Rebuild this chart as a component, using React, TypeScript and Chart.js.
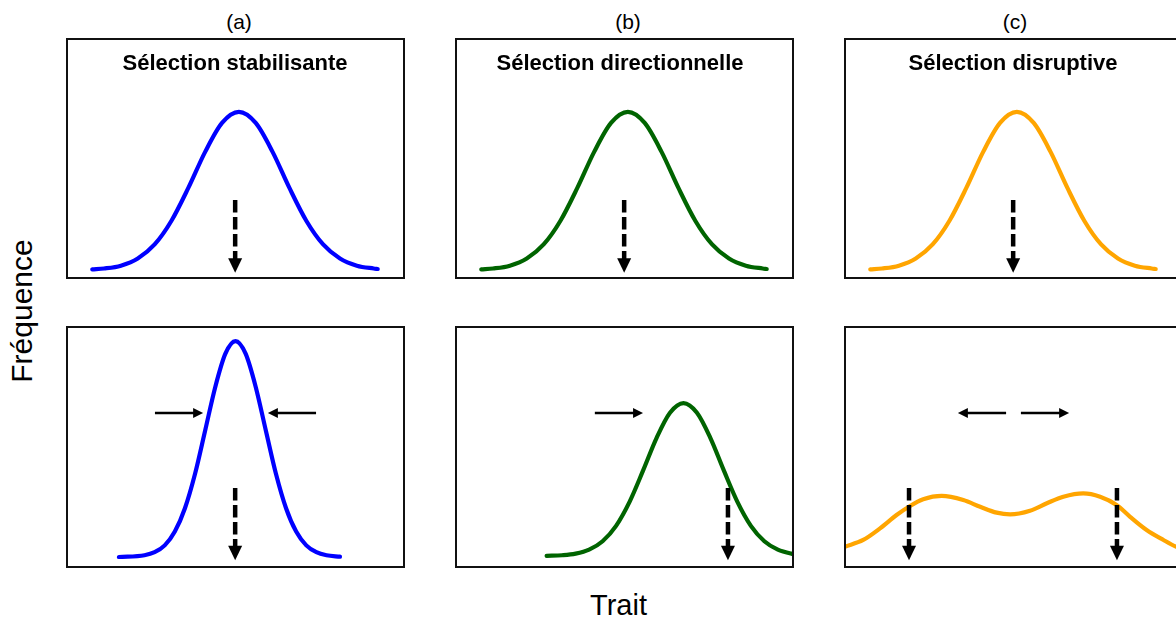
import React, { useEffect, useRef } from "react";
import { Chart, registerables } from "chart.js";

Chart.register(...registerables);

// ---------- data ----------
const panelLabels = ["(a)", "(b)", "(c)"];
const panelTitles = ["Sélection stabilisante", "Sélection directionnelle", "Sélection disruptive"];
const curveColors = ["#0000ff", "#006400", "#ffa500"];
const xAxisTitle = "Trait";
const yAxisTitle = "Fréquence";

// top row: initial distribution (same in the three panels)
const initialTrait = [0.75, 1.1, 1.6, 2.1, 2.6, 3.1, 3.6, 4.1, 4.6, 5.1, 5.6, 6.1, 6.6, 7.1, 7.6, 8.1, 8.6, 9.1, 9.22];
const initialFreq = [0.004, 0.01, 0.028, 0.073, 0.162, 0.312, 0.519, 0.747, 0.93, 1.0, 0.93, 0.747, 0.519, 0.312, 0.162, 0.073, 0.028, 0.01, 0.007];

// bottom row (a): stabilising selection
const stabTrait = [1.54, 2.3, 2.6, 2.9, 3.2, 3.5, 3.8, 4.1, 4.4, 4.7, 5.0, 5.3, 5.6, 5.9, 6.2, 6.5, 6.8, 7.1, 7.4, 7.7, 8.1];
const stabFreq = [0.013, 0.024, 0.043, 0.086, 0.173, 0.32, 0.537, 0.809, 1.083, 1.292, 1.371, 1.292, 1.083, 0.809, 0.537, 0.32, 0.173, 0.086, 0.043, 0.024, 0.015];

// bottom row (b): directional selection
const dirTrait = [2.69, 3.15, 3.55, 3.95, 4.35, 4.75, 5.15, 5.55, 5.95, 6.35, 6.75, 7.15, 7.55, 7.95, 8.35, 8.75, 9.15, 9.55, 9.95, 10.05, 10.4];
const dirFreq = [0.02, 0.024, 0.034, 0.059, 0.112, 0.209, 0.36, 0.556, 0.761, 0.92, 0.981, 0.92, 0.761, 0.556, 0.36, 0.209, 0.112, 0.059, 0.034, 0.031, 0.023];

// bottom row (c): disruptive selection
const disTrait = [-0.3, 0.0, 0.54, 1.04, 1.53, 1.93, 2.32, 2.87, 3.51, 4.01, 4.5, 4.9, 5.49, 5.99, 6.48, 7.07, 7.57, 8.06, 8.46, 8.95, 9.45, 9.82, 10.3];
const disFreq = [0.055, 0.078, 0.12, 0.193, 0.277, 0.334, 0.376, 0.397, 0.371, 0.329, 0.292, 0.281, 0.304, 0.351, 0.392, 0.413, 0.392, 0.34, 0.266, 0.183, 0.12, 0.078, 0.04];

// arrows [xFrom, yFrom, xTo, yTo] in data units
const topSelectionArrows = [[4.99, 0.443, 4.99, -0.0165]];
const stabSelectionArrows = [[4.99, 0.447, 4.99, -0.008]];
const stabShiftArrows = [[2.61, 0.919, 4.04, 0.919], [7.39, 0.919, 5.96, 0.919]];
const dirSelectionArrows = [[8.07, 0.447, 8.07, -0.008]];
const dirShiftArrows = [[4.12, 0.919, 5.55, 0.919]];
const disSelectionArrows = [[1.9, 0.447, 1.9, -0.008], [8.07, 0.447, 8.07, -0.008]];
const disShiftArrows = [[4.78, 0.919, 3.35, 0.919], [5.22, 0.919, 6.65, 0.919]];

const traitMin = 0;
const traitMax = 10;
const freqMin = -0.05;
const freqMax = 1.46;

// ---------- layout ----------
const FONT = "'Liberation Sans', Arial, Helvetica, sans-serif";
const COL_LEFTS = [67, 456, 845];
const ROW_TOPS = [39, 327];
const ROW_HEIGHTS = [239, 240];
const PANEL_W = 337;
const PAD = 3;
const LABEL_CX = [239, 628, 1015];
const TITLE_CX = [235, 620, 1013];

type ArrowSpec = { pts: number[][]; dashed: boolean };

function PanelChart(props: {
  left: number;
  top: number;
  width: number;
  height: number;
  trait: number[];
  freq: number[];
  color: string;
  arrows: ArrowSpec[];
}) {
  const ref = useRef<HTMLCanvasElement>(null);
  const { left, top, width, height, trait, freq, color, arrows } = props;

  useEffect(() => {
    if (!ref.current) return;
    const overlay = {
      id: "arrowsFrame",
      afterDatasetsDraw(chart: any) {
        const { ctx, chartArea, scales } = chart;
        const sx = scales.x;
        const sy = scales.y;
        ctx.save();
        for (const group of arrows) {
          for (const a of group.pts) {
            const x0 = sx.getPixelForValue(a[0]);
            const y0 = sy.getPixelForValue(a[1]);
            const x1 = sx.getPixelForValue(a[2]);
            const y1 = sy.getPixelForValue(a[3]);
            const ang = Math.atan2(y1 - y0, x1 - x0);
            const headLen = group.dashed ? 14.5 : 10;
            const headW = group.dashed ? 14 : 10;
            const c = Math.cos(ang);
            const s = Math.sin(ang);
            const bx = x1 - c * headLen;
            const by = y1 - s * headLen;
            ctx.strokeStyle = "#000";
            ctx.fillStyle = "#000";
            ctx.lineWidth = group.dashed ? 4.5 : 2.6;
            ctx.lineCap = "butt";
            ctx.setLineDash(group.dashed ? [12.5, 4.5] : []);
            ctx.beginPath();
            ctx.moveTo(x0, y0);
            ctx.lineTo(bx + c * 1, by + s * 1);
            ctx.stroke();
            ctx.setLineDash([]);
            ctx.beginPath();
            ctx.moveTo(x1, y1);
            ctx.lineTo(bx - s * (headW / 2), by + c * (headW / 2));
            ctx.lineTo(bx + s * (headW / 2), by - c * (headW / 2));
            ctx.closePath();
            ctx.fill();
          }
        }
        ctx.lineWidth = 2;
        ctx.strokeStyle = "#111";
        ctx.strokeRect(chartArea.left, chartArea.top, chartArea.right - chartArea.left, chartArea.bottom - chartArea.top);
        ctx.restore();
      },
    };

    const chart = new Chart(ref.current, {
      type: "line",
      data: {
        datasets: [
          {
            data: trait.map((x, i) => ({ x, y: freq[i] })),
            borderColor: color,
            borderWidth: 4.2,
            pointRadius: 0,
            fill: false,
            cubicInterpolationMode: "monotone",
            borderCapStyle: "round",
            borderJoinStyle: "round",
            clip: 0,
          } as any,
        ],
      },
      options: {
        animation: false,
        responsive: false,
        events: [],
        layout: { padding: PAD },
        plugins: {
          legend: { display: false },
          tooltip: { enabled: false },
          title: { display: false },
        },
        scales: {
          x: { type: "linear", min: traitMin, max: traitMax, display: false },
          y: { type: "linear", min: freqMin, max: freqMax, display: false },
        },
      },
      plugins: [overlay],
    });
    return () => chart.destroy();
  }, []);

  return (
    <canvas
      ref={ref}
      width={width + 2 * PAD}
      height={height + 2 * PAD}
      style={{
        position: "absolute",
        left: left - PAD,
        top: top - PAD,
        width: width + 2 * PAD,
        height: height + 2 * PAD,
      }}
    />
  );
}

export default function App() {
  const topArrows: ArrowSpec[] = [{ pts: topSelectionArrows, dashed: true }];
  const bottom = [
    { trait: stabTrait, freq: stabFreq, arrows: [{ pts: stabSelectionArrows, dashed: true }, { pts: stabShiftArrows, dashed: false }] },
    { trait: dirTrait, freq: dirFreq, arrows: [{ pts: dirSelectionArrows, dashed: true }, { pts: dirShiftArrows, dashed: false }] },
    { trait: disTrait, freq: disFreq, arrows: [{ pts: disSelectionArrows, dashed: true }, { pts: disShiftArrows, dashed: false }] },
  ];

  const text = (content: string, cx: number, cy: number, size: number, extra: any = {}) => (
    <div
      style={{
        position: "absolute",
        left: cx,
        top: cy,
        transform: "translate(-50%, -50%)" + (extra.rotate ? " rotate(-90deg)" : ""),
        fontSize: size,
        fontWeight: extra.bold ? "bold" : "normal",
        whiteSpace: "nowrap",
        lineHeight: "normal",
        color: "#000",
      }}
    >
      {content}
    </div>
  );

  return (
    <div
      style={{
        position: "fixed",
        left: 0,
        top: 0,
        width: 1176,
        height: 619,
        overflow: "hidden",
        background: "#fff",
        fontFamily: FONT,
      }}
    >
      {COL_LEFTS.map((l, i) => (
        <PanelChart
          key={"t" + i}
          left={l}
          top={ROW_TOPS[0]}
          width={PANEL_W}
          height={ROW_HEIGHTS[0]}
          trait={initialTrait}
          freq={initialFreq}
          color={curveColors[i]}
          arrows={topArrows}
        />
      ))}
      {COL_LEFTS.map((l, i) => (
        <PanelChart
          key={"b" + i}
          left={l}
          top={ROW_TOPS[1]}
          width={PANEL_W}
          height={ROW_HEIGHTS[1]}
          trait={bottom[i].trait}
          freq={bottom[i].freq}
          color={curveColors[i]}
          arrows={bottom[i].arrows}
        />
      ))}
      {panelLabels.map((t, i) => (
        <React.Fragment key={"l" + i}>{text(t, LABEL_CX[i], 22, 21)}</React.Fragment>
      ))}
      {panelTitles.map((t, i) => (
        <React.Fragment key={"h" + i}>{text(t, TITLE_CX[i], 62.5, 22, { bold: true })}</React.Fragment>
      ))}
      {text(xAxisTitle, 618.5, 604.5, 29)}
      {text(yAxisTitle, 22, 310.5, 30, { rotate: true })}
    </div>
  );
}
